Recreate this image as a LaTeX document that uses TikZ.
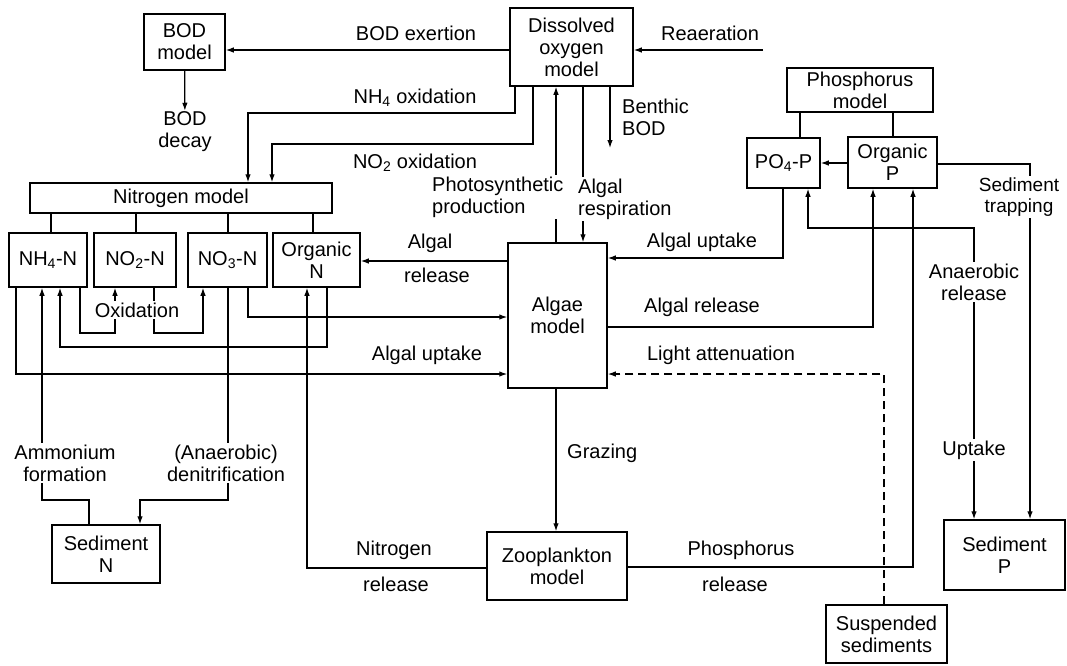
\documentclass[tikz,border=0pt]{standalone}
\usepackage{fontspec}
\setmainfont{Liberation Sans}
\usetikzlibrary{arrows.meta}
\begin{document}
\begin{tikzpicture}[x=1pt,y=-1pt,
  font=\fontsize{20}{22}\selectfont,
  box/.style={draw, line width=1.5pt, inner sep=0pt, align=center},
  conn/.style={line width=1.2pt},
  arr/.style={conn, -{Latex[length=8pt,width=5.5pt]}},
  darr/.style={conn, {Latex[length=8pt,width=5.5pt]}-{Latex[length=8pt,width=5.5pt]}},
  lbl/.style={inner sep=1pt, align=center},
  wlbl/.style={align=center, fill=white, inner sep=2pt},
  dashline/.style={dash pattern=on 8pt off 5pt}
]
\useasboundingbox (0,0) rectangle (1067,665);

% boxes
\node[box, minimum width=81pt, minimum height=56pt] (bod) at (184.5,42) {BOD\\model};
\node[box, minimum width=123pt, minimum height=78pt] (do) at (571.5,47) {Dissolved\\oxygen\\model};
\node[box, minimum width=146pt, minimum height=44pt] (phos) at (860,90) {Phosphorus\\model};
\node[box, minimum width=73pt, minimum height=50pt] (po4) at (783.5,163) {PO\textsubscript{4}-P};
\node[box, minimum width=89pt, minimum height=51pt] (orgp) at (892.5,162.5) {Organic\\P};
\node[box, minimum width=302pt, minimum height=30pt] (nitro) at (181,198) {Nitrogen model};
\node[box, minimum width=78pt, minimum height=54pt] (nh4) at (48,260) {NH\textsubscript{4}-N};
\node[box, minimum width=82pt, minimum height=54pt] (no2) at (135,260) {NO\textsubscript{2}-N};
\node[box, minimum width=79pt, minimum height=54pt] (no3) at (227.5,260) {NO\textsubscript{3}-N};
\node[box, minimum width=87pt, minimum height=54pt] (orgn) at (316.5,260) {Organic\\N};
\node[box, minimum width=99pt, minimum height=145pt] (algae) at (557.5,315.5) {Algae\\model};
\node[box, minimum width=108pt, minimum height=58pt] (sedn) at (106,554) {Sediment\\N};
\node[box, minimum width=140pt, minimum height=68pt] (zoo) at (557,566) {Zooplankton\\model};
\node[box, minimum width=121pt, minimum height=70pt] (sedp) at (1004.5,555) {Sediment\\P};
\node[box, minimum width=121pt, minimum height=58pt] (susp) at (886.5,634) {Suspended\\sediments};

% free ends
\coordinate (reastart) at (763,50);
\coordinate (benthicend) at (610,148);
\node[lbl] (boddecay) at (185,132) {BOD\\decay};

% connectors: top
\draw[arr] (do.west |- 0,50) -- (bod.east |- 0,50);
\draw[arr] (reastart) -- (do.east |- reastart);
\draw[arr] (bod) -- (boddecay);
\draw[arr] (do.south -| 515,0) -- (515,113) -| (nitro.north -| 248,0);
\draw[arr] (do.south -| 533,0) -- (533,144) -| (nitro.north -| 272,0);
\draw[arr] (algae.north -| 556,0) -- (do.south -| 556,0);
\draw[arr] (do.south -| 583,0) -- (algae.north -| 583,0);
\draw[arr] (do.south -| 610,0) -- (benthicend);

% phosphorus
\draw[conn] (phos.south -| 800,0) -- (po4.north -| 800,0);
\draw[conn] (phos.south -| 893,0) -- (orgp.north -| 893,0);
\draw[arr] (orgp.west |- 0,163) -- (po4.east |- 0,163);
\draw[arr] (orgp.east |- 0,164) -| (sedp.north -| 1030,0);
\draw[arr] (po4.south -| 783,0) |- (algae.east |- 0,258);
\draw[arr] (algae.east |- 0,327) -| (orgp.south -| 873,0);
\draw[darr] (po4.south -| 808,0) |- (974,228) -- (sedp.north -| 974,0);
\draw[arr, dashline] (susp.north -| 884,0) |- (algae.east |- 0,374);
\draw[arr] (zoo.east |- 0,567) -| (orgp.south -| 913,0);

% algae / zooplankton
\draw[arr] (algae.south -| 556,0) -- (zoo.north -| 556,0);
\draw[arr] (zoo.west |- 0,568) -| (orgn.south -| 307,0);

% nitrogen
\draw[conn] (nitro.south -| 51,0) -- (nh4.north -| 51,0);
\draw[conn] (nitro.south -| 136,0) -- (no2.north -| 136,0);
\draw[conn] (nitro.south -| 228,0) -- (no3.north -| 228,0);
\draw[conn] (nitro.south -| 313,0) -- (orgn.north -| 313,0);
\draw[arr] (algae.west |- 0,261) -- (orgn.east |- 0,261);
\draw[arr] (nh4.south -| 80,0) -- (80,333) -| (no2.south -| 115,0);
\draw[arr] (no2.south -| 154,0) -- (154,333) -| (no3.south -| 203,0);
\draw[arr] (no3.south -| 248,0) |- (algae.west |- 0,317);
\draw[arr] (orgn.south -| 327,0) -- (327,347) -| (nh4.south -| 60,0);
\draw[arr] (nh4.south -| 16,0) |- (algae.west |- 0,374);
\draw[arr] (sedn.north -| 89,0) -- (89,500) -| (nh4.south -| 42,0);
\draw[arr] (no3.south -| 228,0) -- (228,500) -| (sedn.north -| 140,0);

% labels
\node[lbl] (lbodex) at (416,33) {BOD exertion};
\node[lbl] (lrea) at (710,33) {Reaeration};
\node[lbl] (lnh4ox) at (415,98) {NH\textsubscript{4} oxidation};
\node[lbl] (lno2ox) at (415,163) {NO\textsubscript{2} oxidation};
\node[lbl, anchor=west, align=left] (lbenthic) at (621,117) {Benthic\\BOD};
\node[wlbl, anchor=west, align=left] (lphoto) at (430,197) {Photosynthetic\\production};
\node[wlbl, anchor=west, align=left] (lresp) at (576,199) {Algal\\respiration};
\node[wlbl, font=\fontsize{19}{21}\selectfont] (ltrap) at (1019,197) {Sediment\\trapping};
\node[wlbl] (lanaer) at (974,282) {Anaerobic\\release};
\node[wlbl] (luptake) at (974,450) {Uptake};
\node[lbl] (lauP) at (702,242) {Algal uptake};
\node[lbl] (larP) at (702,307) {Algal release};
\node[lbl] (llight) at (721,355) {Light attenuation};
\node[lbl, anchor=west] (lgraz) at (566,453) {Grazing};
\node[lbl] (lnrel1) at (394,550) {Nitrogen};
\node[lbl] (lnrel2) at (396,584) {release};
\node[lbl] (lprel1) at (741,550) {Phosphorus};
\node[lbl] (lprel2) at (735,584) {release};
\node[lbl] (larN1) at (430,243) {Algal};
\node[lbl] (larN2) at (437,275) {release};
\node[lbl] (lauN) at (427,355) {Algal uptake};
\node[wlbl] (loxid) at (137,310) {Oxidation};
\node[wlbl] (lammon) at (65,463) {Ammonium\\formation};
\node[wlbl] (ldenit) at (226,463) {(Anaerobic)\\denitrification};
\end{tikzpicture}
\end{document}
